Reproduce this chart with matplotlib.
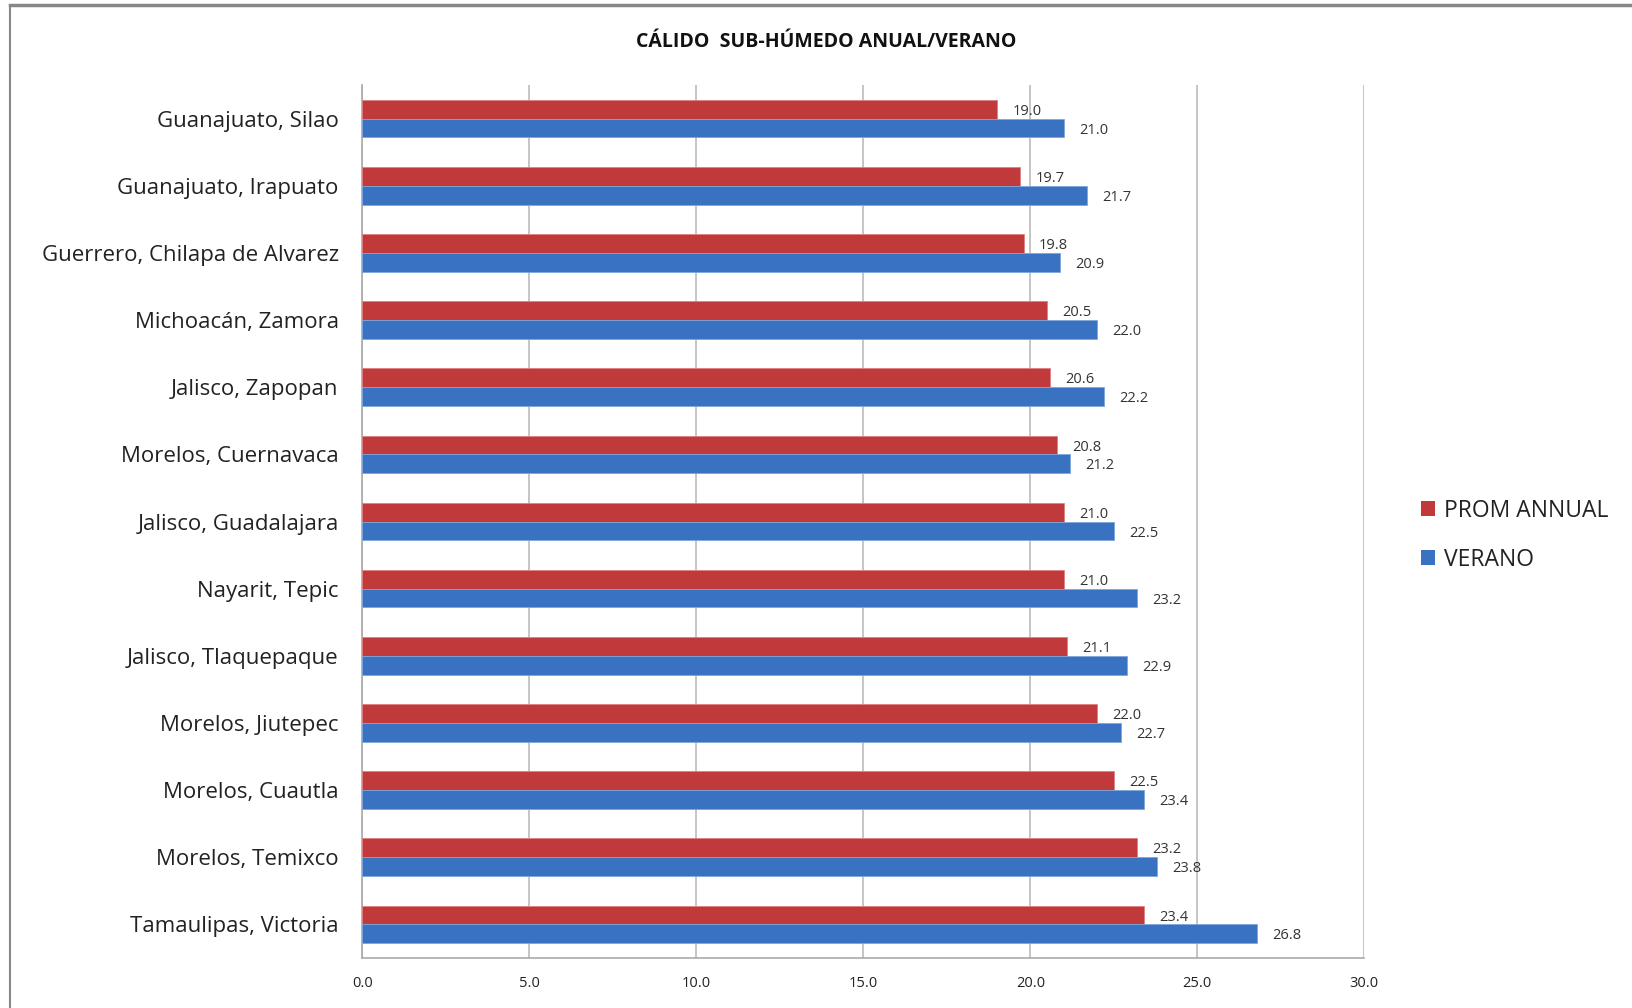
import numpy as np
import matplotlib.pyplot as plt
from matplotlib.lines import Line2D
from matplotlib.patches import Patch

plt.rcParams['font.family'] = ['Open Sans', 'DejaVu Sans']

lugares = ['Guanajuato, Silao', 'Guanajuato, Irapuato', 'Guerrero, Chilapa de Alvarez',
           'Michoacán, Zamora', 'Jalisco, Zapopan', 'Morelos, Cuernavaca',
           'Jalisco, Guadalajara', 'Nayarit, Tepic', 'Jalisco, Tlaquepaque',
           'Morelos, Jiutepec', 'Morelos, Cuautla', 'Morelos, Temixco',
           'Tamaulipas, Victoria']
prom_anual = [19.0, 19.7, 19.8, 20.5, 20.6, 20.8, 21.0, 21.0, 21.1, 22.0, 22.5, 23.2, 23.4]
verano = [21.0, 21.7, 20.9, 22.0, 22.2, 21.2, 22.5, 23.2, 22.9, 22.7, 23.4, 23.8, 26.8]
xticks = [0, 5, 10, 15, 20, 25, 30]

red = '#C0393B'
blue = '#3A72C2'

fig = plt.figure(figsize=(16.32, 10.08), dpi=100)
ax = fig.add_axes([0.222, 0.0496, 0.614, 0.866])

y = np.arange(len(lugares))
h = 0.28
ax.barh(y - h / 2, prom_anual, height=h, color=red, edgecolor='#E08080', linewidth=0.6, zorder=3)
ax.barh(y + h / 2, verano, height=h, color=blue, edgecolor='#7FA6DC', linewidth=0.6, zorder=3)

for i in range(len(lugares)):
    ax.annotate('%.1f' % prom_anual[i], (prom_anual[i], y[i] - h / 2), xytext=(11, -1.5),
                textcoords='offset points', va='center', ha='left', fontsize=10.5, color='#333333')
    ax.annotate('%.1f' % verano[i], (verano[i], y[i] + h / 2), xytext=(11, -1.5),
                textcoords='offset points', va='center', ha='left', fontsize=10.5, color='#333333')

ax.set_ylim(len(lugares) - 0.5, -0.5)
ax.set_xlim(0, 30)
ax.set_yticks(y)
ax.set_yticklabels(lugares, fontsize=16, color='#222222')
ax.set_xticks(xticks)
ax.set_xticklabels(['%.1f' % t for t in xticks], fontsize=10.5, color='#222222')
ax.tick_params(axis='y', length=0, pad=17)
ax.tick_params(axis='x', length=0, pad=13)
ax.grid(axis='x', color='#BBBBBB', linewidth=1.2, zorder=0)
for s in ['top', 'right']:
    ax.spines[s].set_visible(False)
for s in ['left', 'bottom']:
    ax.spines[s].set_color('#AAAAAA')
    ax.spines[s].set_linewidth(1.2)

fig.text(0.506, 0.958, 'CÁLIDO  SUB-HÚMEDO ANUAL/VERANO', ha='center', va='center',
         fontsize=14, fontweight='bold', color='#111111')

handles = [Patch(facecolor=red, label='PROM ANNUAL'), Patch(facecolor=blue, label='VERANO')]
fig.legend(handles=handles, loc='center left', bbox_to_anchor=(0.858, 0.469), frameon=False,
           fontsize=16.5, handlelength=0.6, handleheight=0.6, handletextpad=0.4, labelspacing=1.1,
           labelcolor='#222222')

# marco de la figura
fig.add_artist(Line2D([0.0064, 1.0], [0.9955, 0.9955], color='#888888', linewidth=2.5, transform=fig.transFigure))
fig.add_artist(Line2D([0.0064, 0.0064], [0.0, 0.9955], color='#888888', linewidth=1.5, transform=fig.transFigure))

fig.savefig('out.png', dpi=100)
